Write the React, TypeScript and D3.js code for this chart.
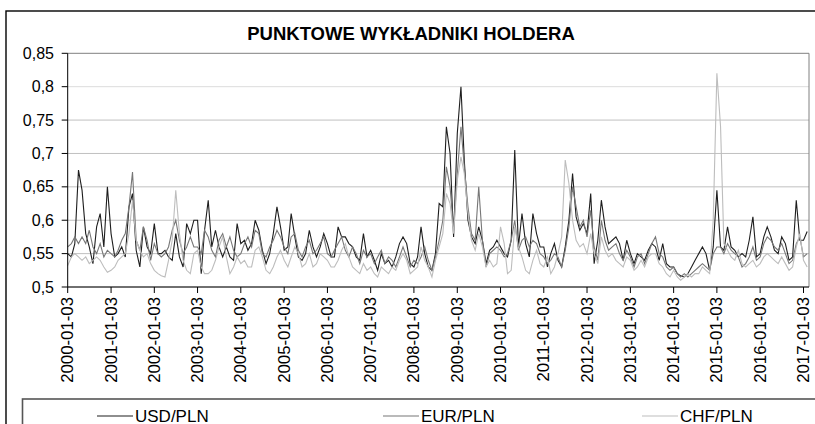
import React from 'react'
import * as d3 from 'd3'

// values, one per month starting 2000-01-03
const usd = [
  0.55, 0.545, 0.565, 0.675, 0.645, 0.58, 0.56, 0.535, 0.59, 0.61, 0.56, 0.65,
  0.58, 0.545, 0.55, 0.56, 0.545, 0.62, 0.64, 0.555, 0.53, 0.59, 0.56, 0.55,
  0.595, 0.55, 0.55, 0.555, 0.545, 0.54, 0.58, 0.545, 0.53, 0.595, 0.58, 0.6,
  0.6, 0.52, 0.585, 0.63, 0.56, 0.585, 0.56, 0.545, 0.56, 0.545, 0.54, 0.595,
  0.565, 0.57, 0.555, 0.565, 0.6, 0.585, 0.555, 0.535, 0.55, 0.58, 0.62, 0.59,
  0.555, 0.56, 0.61, 0.575, 0.545, 0.54, 0.55, 0.585, 0.56, 0.545, 0.56, 0.58,
  0.565, 0.545, 0.545, 0.59, 0.575, 0.575, 0.565, 0.56, 0.545, 0.54, 0.58, 0.545,
  0.555, 0.54, 0.525, 0.55, 0.535, 0.54, 0.53, 0.545, 0.565, 0.575, 0.565, 0.535,
  0.53, 0.545, 0.59, 0.55, 0.53, 0.525, 0.55, 0.625, 0.62, 0.74, 0.7, 0.575,
  0.73, 0.8, 0.69, 0.6, 0.575, 0.565, 0.59, 0.57, 0.535, 0.555, 0.56, 0.57,
  0.56, 0.55, 0.545, 0.57, 0.705, 0.56, 0.61, 0.565, 0.545, 0.61, 0.58, 0.56,
  0.56, 0.53, 0.55, 0.565, 0.54, 0.53, 0.56, 0.6, 0.67, 0.605, 0.585, 0.595,
  0.58, 0.64, 0.535, 0.57, 0.63, 0.59, 0.565, 0.57, 0.575, 0.565, 0.54, 0.57,
  0.55, 0.535, 0.55, 0.545, 0.54, 0.555, 0.565, 0.56, 0.54, 0.565, 0.535, 0.53,
  0.53, 0.52, 0.517, 0.515, 0.52, 0.53, 0.54, 0.55, 0.56, 0.55, 0.525, 0.56,
  0.645, 0.56, 0.555, 0.59, 0.56, 0.555, 0.545, 0.55, 0.545, 0.57, 0.605, 0.545,
  0.55, 0.575, 0.59, 0.575, 0.555, 0.55, 0.575, 0.565, 0.54, 0.545, 0.63, 0.57,
  0.57, 0.583,
]

const eur = [
  0.56, 0.565, 0.575, 0.565, 0.575, 0.565, 0.585, 0.56, 0.55, 0.565, 0.545, 0.555,
  0.55, 0.545, 0.555, 0.57, 0.58, 0.62, 0.672, 0.57, 0.555, 0.59, 0.57, 0.54,
  0.565, 0.55, 0.545, 0.55, 0.56, 0.585, 0.6, 0.57, 0.55, 0.56, 0.575, 0.56,
  0.56, 0.55, 0.585, 0.575, 0.555, 0.545, 0.57, 0.58, 0.56, 0.575, 0.555, 0.545,
  0.55, 0.565, 0.575, 0.56, 0.585, 0.58, 0.55, 0.545, 0.56, 0.57, 0.585, 0.575,
  0.56, 0.55, 0.575, 0.58, 0.555, 0.545, 0.56, 0.57, 0.55, 0.555, 0.565, 0.575,
  0.55, 0.545, 0.555, 0.565, 0.575, 0.555, 0.545, 0.56, 0.55, 0.535, 0.555, 0.545,
  0.55, 0.535, 0.545, 0.555, 0.535, 0.545, 0.54, 0.53, 0.545, 0.56, 0.545, 0.53,
  0.54, 0.535, 0.545, 0.56, 0.54, 0.525, 0.545, 0.57, 0.6, 0.68, 0.65, 0.585,
  0.67, 0.74, 0.68, 0.62, 0.58, 0.57, 0.65, 0.57, 0.53, 0.55, 0.555, 0.56,
  0.555, 0.545, 0.55, 0.57, 0.6, 0.555, 0.57, 0.575, 0.56, 0.57, 0.565, 0.55,
  0.545, 0.535, 0.54, 0.55, 0.545, 0.53, 0.555, 0.59, 0.65, 0.62, 0.59, 0.6,
  0.575, 0.615, 0.56, 0.54, 0.6, 0.57, 0.555, 0.56, 0.565, 0.55, 0.54, 0.555,
  0.545, 0.53, 0.545, 0.55, 0.535, 0.55, 0.565, 0.575, 0.55, 0.545, 0.53, 0.525,
  0.53, 0.52, 0.515, 0.52, 0.515, 0.52, 0.525, 0.53, 0.535, 0.53, 0.525, 0.55,
  0.56, 0.56, 0.55, 0.565, 0.555, 0.55, 0.545, 0.53, 0.535, 0.545, 0.56, 0.54,
  0.545, 0.565, 0.575, 0.57, 0.56, 0.555, 0.565, 0.55, 0.535, 0.54, 0.565, 0.575,
  0.545, 0.55,
]

const chf = [
  0.532, 0.545, 0.55, 0.545, 0.54, 0.545, 0.535, 0.54, 0.545, 0.54, 0.53, 0.522,
  0.525, 0.53, 0.54, 0.545, 0.55, 0.58, 0.63, 0.57, 0.555, 0.545, 0.55, 0.535,
  0.525, 0.52, 0.517, 0.515, 0.54, 0.57, 0.645, 0.58, 0.54, 0.525, 0.52, 0.55,
  0.555, 0.53, 0.52, 0.52, 0.525, 0.54, 0.56, 0.575, 0.545, 0.52, 0.53, 0.545,
  0.535, 0.54, 0.53, 0.53, 0.555, 0.56, 0.545, 0.525, 0.52, 0.53, 0.545, 0.555,
  0.54, 0.53, 0.545, 0.56, 0.55, 0.53, 0.535, 0.55, 0.53, 0.535, 0.55, 0.545,
  0.54, 0.53, 0.53, 0.54, 0.555, 0.565, 0.545, 0.53, 0.525, 0.52, 0.535, 0.525,
  0.53, 0.52, 0.515, 0.53, 0.525, 0.52, 0.53, 0.525, 0.54, 0.55, 0.54, 0.52,
  0.525, 0.53, 0.56, 0.54, 0.53, 0.515, 0.54, 0.56, 0.58, 0.64, 0.625, 0.58,
  0.66, 0.695, 0.67, 0.61, 0.57, 0.555, 0.58, 0.56, 0.53, 0.54, 0.53, 0.535,
  0.59, 0.565, 0.52, 0.525, 0.59, 0.56, 0.545, 0.525, 0.52, 0.54, 0.555, 0.535,
  0.53, 0.545, 0.52, 0.53, 0.55, 0.575, 0.69, 0.655, 0.6, 0.57, 0.56, 0.565,
  0.55, 0.58, 0.55, 0.535, 0.575, 0.555, 0.545, 0.55, 0.54, 0.535, 0.53, 0.545,
  0.54, 0.525, 0.53, 0.54, 0.53, 0.545, 0.55, 0.55, 0.535, 0.53, 0.52, 0.515,
  0.525, 0.515, 0.51, 0.515, 0.52, 0.515, 0.52, 0.52, 0.53, 0.525, 0.52, 0.6,
  0.82, 0.74, 0.565, 0.555, 0.545, 0.54, 0.555, 0.535, 0.53, 0.535, 0.54, 0.53,
  0.535, 0.545, 0.55, 0.545, 0.54, 0.535, 0.545, 0.535, 0.525, 0.53, 0.56, 0.58,
  0.54, 0.53,
]

const seriesNames = ['USD/PLN', 'EUR/PLN', 'CHF/PLN']
const seriesColors = ['#1e1e1e', '#777777', '#bdbdbd']

const xTickLabels = [
  '2000-01-03', '2001-01-03', '2002-01-03', '2003-01-03', '2004-01-03', '2005-01-03',
  '2006-01-03', '2007-01-03', '2008-01-03', '2009-01-03', '2010-01-03', '2011-01-03',
  '2012-01-03', '2013-01-03', '2014-01-03', '2015-01-03', '2016-01-03', '2017-01-03',
]
const yTicks = [0.5, 0.55, 0.6, 0.65, 0.7, 0.75, 0.8, 0.85]

const W = 815
const H = 424
const plot = { left: 67.7, right: 809, top: 53.3, bottom: 287 }
const font = '"Liberation Sans", Arial, sans-serif'

export default function App() {
  const parse = d3.timeParse('%Y-%m-%d')
  const start = parse('2000-01-03') as Date
  const dates = usd.map((_, i) => d3.timeMonth.offset(start, i))

  const x = d3
    .scaleTime()
    .domain([start, parse('2017-01-03') as Date])
    .range([plot.left, 803.5])
  const y = d3.scaleLinear().domain([0.5, 0.85]).range([plot.bottom, plot.top])

  const line = d3
    .line<number>()
    .x((_, i) => x(dates[i]))
    .y((d) => y(d))

  const all = [usd, eur, chf]
  const legendX = [97, 383, 642]

  return (
    <div style={{ position: 'absolute', left: 0, top: 0 }}>
      <svg width={W} height={H} style={{ display: 'block', background: '#fff' }}>
        {/* chart area border */}
        <rect x={6} y={11} width={W + 20} height={H + 20} fill="#fff" stroke="#000" strokeWidth={1.4} />

        <text x={411} y={40} textAnchor="middle" fontFamily={font} fontWeight="bold" fontSize={18.5}>
          PUNKTOWE WYKŁADNIKI HOLDERA
        </text>

        {/* grid */}
        {yTicks.map((t) => (
          <line
            key={t}
            x1={plot.left}
            x2={plot.right}
            y1={y(t)}
            y2={y(t)}
            stroke={t === 0.85 ? '#808080' : t === 0.8 ? '#dcdcdc' : '#c0c0c0'}
            strokeWidth={1}
          />
        ))}
        <line x1={plot.right} x2={plot.right} y1={plot.top} y2={plot.bottom} stroke="#808080" />

        {/* series */}
        {all.map((s, i) => (
          <path key={seriesNames[i]} d={line(s) || ''} fill="none" stroke={seriesColors[i]} strokeWidth={1.1} />
        ))}

        {/* y axis */}
        <line x1={plot.left} x2={plot.left} y1={plot.top} y2={plot.bottom} stroke="#000" />
        {yTicks.map((t) => (
          <g key={t}>
            <line x1={plot.left - 6} x2={plot.left} y1={y(t)} y2={y(t)} stroke="#000" />
            <text
              x={54}
              y={y(t)}
              textAnchor="end"
              dominantBaseline="central"
              fontFamily={font}
              fontSize={16}
            >
              {String(t).replace('.', ',')}
            </text>
          </g>
        ))}

        {/* x axis */}
        <line x1={plot.left} x2={plot.right} y1={plot.bottom} y2={plot.bottom} stroke="#000" />
        {xTickLabels.map((lbl) => {
          const px = x(parse(lbl) as Date)
          return (
            <g key={lbl}>
              <line x1={px} x2={px} y1={plot.bottom} y2={plot.bottom + 6} stroke="#000" />
              <text
                transform={`translate(${px},${plot.bottom + 10}) rotate(-90)`}
                textAnchor="end"
                dominantBaseline="central"
                fontFamily={font}
                fontSize={16.8}
              >
                {lbl}
              </text>
            </g>
          )
        })}

        {/* legend */}
        <rect x={22.5} y={399} width={W} height={60} fill="#fff" stroke="#555" strokeWidth={1.6} />
        {seriesNames.map((n, i) => (
          <g key={n}>
            <line x1={legendX[i]} x2={legendX[i] + 36} y1={416} y2={416} stroke={seriesColors[i]} strokeWidth={1.2} />
            <text x={legendX[i] + 38} y={421.5} fontFamily={font} fontSize={17}>
              {n}
            </text>
          </g>
        ))}
      </svg>
    </div>
  )
}
